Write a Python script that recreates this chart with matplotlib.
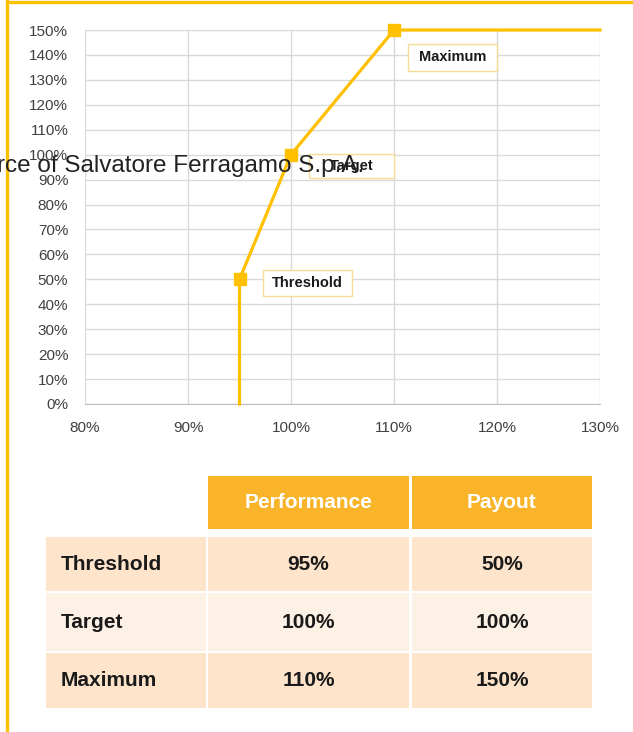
import matplotlib.pyplot as plt
from matplotlib.patches import Rectangle

plt.rcParams['font.family'] = ['Liberation Sans', 'DejaVu Sans']

# payout curve
perf = [95, 95, 100, 110, 130]
payout = [0, 50, 100, 150, 150]
point_names = ['Threshold', 'Target', 'Maximum']
point_perf = [95, 100, 110]
point_payout = [50, 100, 150]

x_ticks = [80, 90, 100, 110, 120, 130]
y_ticks = list(range(0, 160, 10))

# table
table_header = ['', 'Performance', 'Payout']
table_rows = ['Threshold', 'Target', 'Maximum']
table_perf = ['95%', '100%', '110%']
table_pay = ['50%', '100%', '150%']

W, H = 633, 732
GOLD = '#FFC000'
fig = plt.figure(figsize=(W / 100, H / 100), dpi=100)

# chart area in pixels
L, R, T, B = 85, 600, 30, 404
ax = fig.add_axes([L / W, 1 - B / H, (R - L) / W, (B - T) / H])
ax.plot(perf, payout, color=GOLD, lw=2.3, zorder=3, clip_on=False)
ax.plot(point_perf, point_payout, 's', color=GOLD, ms=8.5, zorder=4, clip_on=False)
ax.set_xlim(80, 130)
ax.set_ylim(0, 150)
ax.set_xticks(x_ticks)
ax.set_yticks(y_ticks)
ax.set_xticklabels([f'{v}%' for v in x_ticks])
ax.set_yticklabels([f'{v}%' for v in y_ticks])
ax.tick_params(length=0, labelsize=11, labelcolor='#404040', pad=12)
ax.tick_params(axis='y', pad=12)
ax.grid(True, color='#D9D9D9', lw=1.0)
ax.set_axisbelow(True)
for s in ['top', 'right', 'left']:
    ax.spines[s].set_visible(False)
ax.spines['bottom'].set_color('#BFBFBF')

# label boxes (centre in data units, sizes in pixels)
label_pos = {'Maximum': (115.7, 139.0, 89, 27),
             'Target': (105.9, 95.5, 85, 24),
             'Threshold': (101.6, 48.5, 89, 26)}
for name in point_names:
    cx, cy, bw, bh = label_pos[name]
    dw = bw * 50 / (R - L)
    dh = bh * 150 / (B - T)
    ax.add_patch(Rectangle((cx - dw / 2, cy - dh / 2), dw, dh, facecolor='white',
                           edgecolor='#F6DC95', lw=1.0, zorder=5))
    ax.text(cx, cy, name, ha='center', va='center', fontsize=10.5,
            fontweight='bold', color='#1a1a1a', zorder=6)

# overlay in pixel coordinates
ov = fig.add_axes([0, 0, 1, 1], zorder=10)
ov.set_xlim(0, W)
ov.set_ylim(H, 0)
ov.axis('off')
ov.patch.set_alpha(0)

# yellow frame
ov.plot([6.5, 6.5], [0, H], color=GOLD, lw=2.4)
ov.plot([6.5, W], [1.5, 1.5], color=GOLD, lw=2.4)

# stray text layer
ov.text(-3, 172, 'rce of Salvatore Ferragamo S.p.A.', fontsize=17.5,
        color='#222222', ha='left', va='baseline')

# table
cols = [(46, 206), (208, 409), (412, 592)]
header_y = (476, 529)
row_y = [(537, 591), (593, 651), (653, 708)]
row_fill = ['#FDE4CB', '#FDF1E5', '#FDE4CB']
HEAD = '#FAB42A'

for j, (x0, x1) in enumerate(cols):
    if j > 0:
        ov.add_patch(Rectangle((x0, header_y[0]), x1 - x0, header_y[1] - header_y[0],
                               facecolor=HEAD, edgecolor='none'))
        ov.text((x0 + x1) / 2, sum(header_y) / 2, table_header[j], color='white',
                fontsize=15, fontweight='bold', ha='center', va='center')

for i, (y0, y1) in enumerate(row_y):
    vals = [table_rows[i], table_perf[i], table_pay[i]]
    for j, (x0, x1) in enumerate(cols):
        ov.add_patch(Rectangle((x0, y0), x1 - x0, y1 - y0,
                               facecolor=row_fill[i], edgecolor='none'))
        if j == 0:
            ov.text(61, (y0 + y1) / 2, vals[j], fontsize=15, fontweight='bold',
                    color='#1a1a1a', ha='left', va='center')
        else:
            ov.text((x0 + x1) / 2, (y0 + y1) / 2, vals[j], fontsize=15,
                    fontweight='bold', color='#1a1a1a', ha='center', va='center')

fig.savefig('out.png', dpi=100)
